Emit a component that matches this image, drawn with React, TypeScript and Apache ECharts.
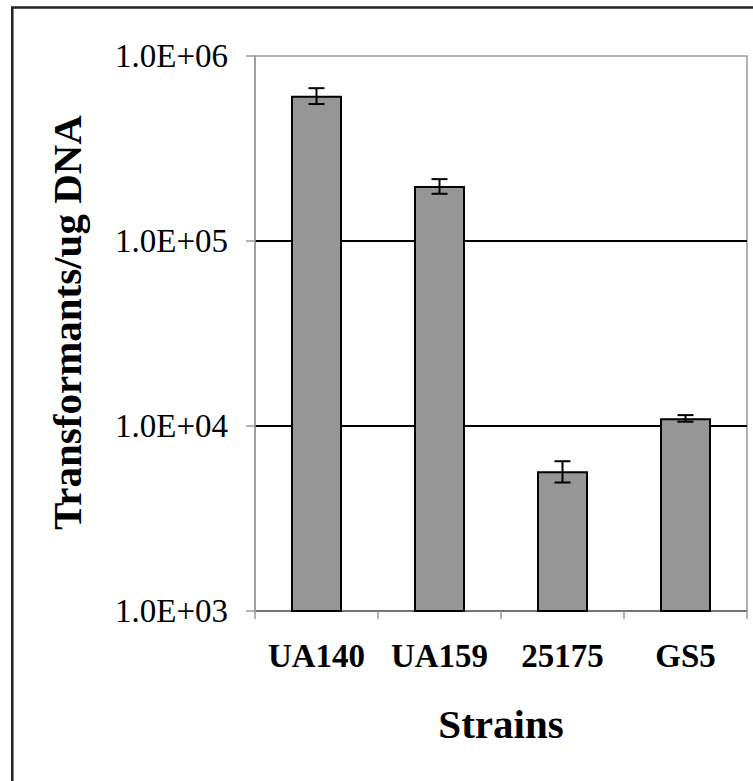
import React, { useEffect, useRef } from "react";
import * as echarts from "echarts";

const categories = ["UA140", "UA159", "25175", "GS5"];
const means = [610000, 198000, 5700, 11000];
const errors = [60000, 18000, 750, 450];
const yTicks = [1000, 10000, 100000, 1000000];

const FONT = "Liberation Serif";

export default function App() {
  const ref = useRef<HTMLDivElement>(null);
  useEffect(() => {
    if (!ref.current) return;
    const chart = echarts.init(ref.current, null, { renderer: "svg" });
    const errData = means.map((m, i) => [i, m - errors[i], m + errors[i]]);
    chart.setOption({
      animation: false,
      backgroundColor: "#ffffff",
      textStyle: { fontFamily: FONT },
      grid: {
        left: 255,
        top: 56,
        right: 6,
        bottom: 170,
        show: true,
        borderColor: "#999999",
        borderWidth: 1.5,
        backgroundColor: "transparent",
      },
      graphic: [
        {
          type: "rect",
          shape: { x: 12.3, y: 7.5, width: 800, height: 820 },
          style: { fill: "none", stroke: "#222222", lineWidth: 2.5 },
          silent: true,
        },
      ],
      xAxis: {
        type: "category",
        data: categories,
        axisLine: { show: true, lineStyle: { color: "#999999", width: 1.5 } },
        axisTick: { show: true, alignWithLabel: false, length: 8, lineStyle: { color: "#999999", width: 1.5 } },
        axisLabel: {
          interval: 0,
          color: "#000",
          fontFamily: FONT,
          fontWeight: "bold",
          fontSize: 33,
          margin: 28,
        },
        name: "Strains",
        nameLocation: "middle",
        nameGap: 92,
        nameTextStyle: { color: "#000", fontFamily: FONT, fontWeight: "bold", fontSize: 41 },
        splitLine: { show: false },
      },
      yAxis: {
        type: "log",
        logBase: 10,
        min: yTicks[0],
        max: yTicks[yTicks.length - 1],
        axisLine: { show: true, lineStyle: { color: "#999999", width: 1.5 } },
        axisTick: { show: true, inside: false, length: 9, lineStyle: { color: "#999999", width: 1.5 } },
        axisLabel: {
          color: "#000",
          fontFamily: FONT,
          fontSize: 33,
          margin: 27,
          formatter: (v: number) => {
            const e = Math.round(Math.log10(v));
            return "1.0E+" + (e < 10 ? "0" + e : String(e));
          },
        },
        splitLine: {
          show: true,
          showMinLine: false,
          showMaxLine: false,
          lineStyle: { color: "#000000", width: 1.8 },
        },
        name: "Transformants/ug DNA",
        nameLocation: "middle",
        nameRotate: 90,
        nameGap: 168,
        nameTextStyle: {
          color: "#000",
          fontFamily: FONT,
          fontWeight: "bold",
          fontSize: 41,
          padding: [0, 0, 0, 22],
        },
      },
      series: [
        {
          type: "bar",
          data: means,
          barWidth: 51,
          itemStyle: { color: "#969696", borderColor: "#000000", borderWidth: 2 },
          z: 2,
        },
        {
          type: "custom",
          data: errData,
          z: 3,
          renderItem: (params: any, api: any) => {
            const i = api.value(0);
            const lo = api.coord([i, api.value(1)]);
            const hi = api.coord([i, api.value(2)]);
            const half = 8;
            const style = { stroke: "#000000", lineWidth: 2, fill: "none" };
            return {
              type: "group",
              children: [
                { type: "line", shape: { x1: lo[0], y1: lo[1], x2: hi[0], y2: hi[1] }, style },
                { type: "line", shape: { x1: hi[0] - half, y1: hi[1], x2: hi[0] + half, y2: hi[1] }, style },
                { type: "line", shape: { x1: lo[0] - half, y1: lo[1], x2: lo[0] + half, y2: lo[1] }, style },
              ],
            };
          },
          encode: { x: 0, y: [1, 2] },
        },
      ],
    });
    return () => chart.dispose();
  }, []);
  return (
    <div
      ref={ref}
      style={{ position: "fixed", left: 0, top: 0, width: 753, height: 781, background: "#fff" }}
    />
  );
}
